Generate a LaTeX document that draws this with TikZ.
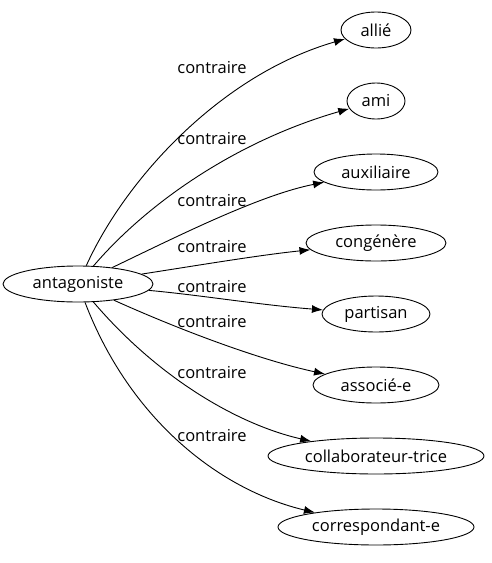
\documentclass[tikz,border=0pt]{standalone}
\usepackage{fontspec}
\setmainfont{Open Sans}
\usetikzlibrary{shapes.geometric,arrows.meta}
\begin{document}
\begin{tikzpicture}[x=1pt,y=-1pt,
  word/.style={draw,ellipse,inner sep=0pt,line width=0.9pt,minimum height=36pt,font=\fontsize{16.5}{18}\selectfont},
  lab/.style={font=\fontsize{16.5}{18}\selectfont},
  rel/.style={draw,-{Latex[length=11pt,width=8pt]},line width=0.9pt}]
\useasboundingbox (0,0) rectangle (491,563);
\node[word,minimum width=150pt] (a) at (78,284) {antagoniste};
\node[word,minimum width=70pt] (n1) at (376,30) {allié};
\node[word,minimum width=58pt] (n2) at (376,101) {ami};
\node[word,minimum width=124pt] (n3) at (376,172) {auxiliaire};
\node[word,minimum width=140pt] (n4) at (376,243) {congénère};
\node[word,minimum width=108pt] (n5) at (376,314) {partisan};
\node[word,minimum width=126pt] (n6) at (376,385) {associé-e};
\node[word,minimum width=216pt] (n7) at (376,456) {collaborateur-trice};
\node[word,minimum width=196pt] (n8) at (376,527) {correspondant-e};
\draw[rel] (a) .. controls (125,180) and (220,75) .. (n1);
\draw[rel] (a) .. controls (150,200) and (240,140) .. (n2);
\draw[rel] (a) .. controls (180,235) and (260,195) .. (n3);
\draw[rel] (a) .. controls (200,265) and (260,255) .. (n4);
\draw[rel] (a) .. controls (200,295) and (260,305) .. (n5);
\draw[rel] (a) .. controls (180,330) and (260,360) .. (n6);
\draw[rel] (a) .. controls (160,380) and (240,425) .. (n7);
\draw[rel] (a) .. controls (130,420) and (220,490) .. (n8);
\node[lab] (l1) at (212,68) {contraire};
\node[lab] (l2) at (212,139) {contraire};
\node[lab] (l3) at (212,201) {contraire};
\node[lab] (l4) at (212,247) {contraire};
\node[lab] (l5) at (212,287) {contraire};
\node[lab] (l6) at (212,322) {contraire};
\node[lab] (l7) at (212,373) {contraire};
\node[lab] (l8) at (212,436) {contraire};
\end{tikzpicture}
\end{document}
